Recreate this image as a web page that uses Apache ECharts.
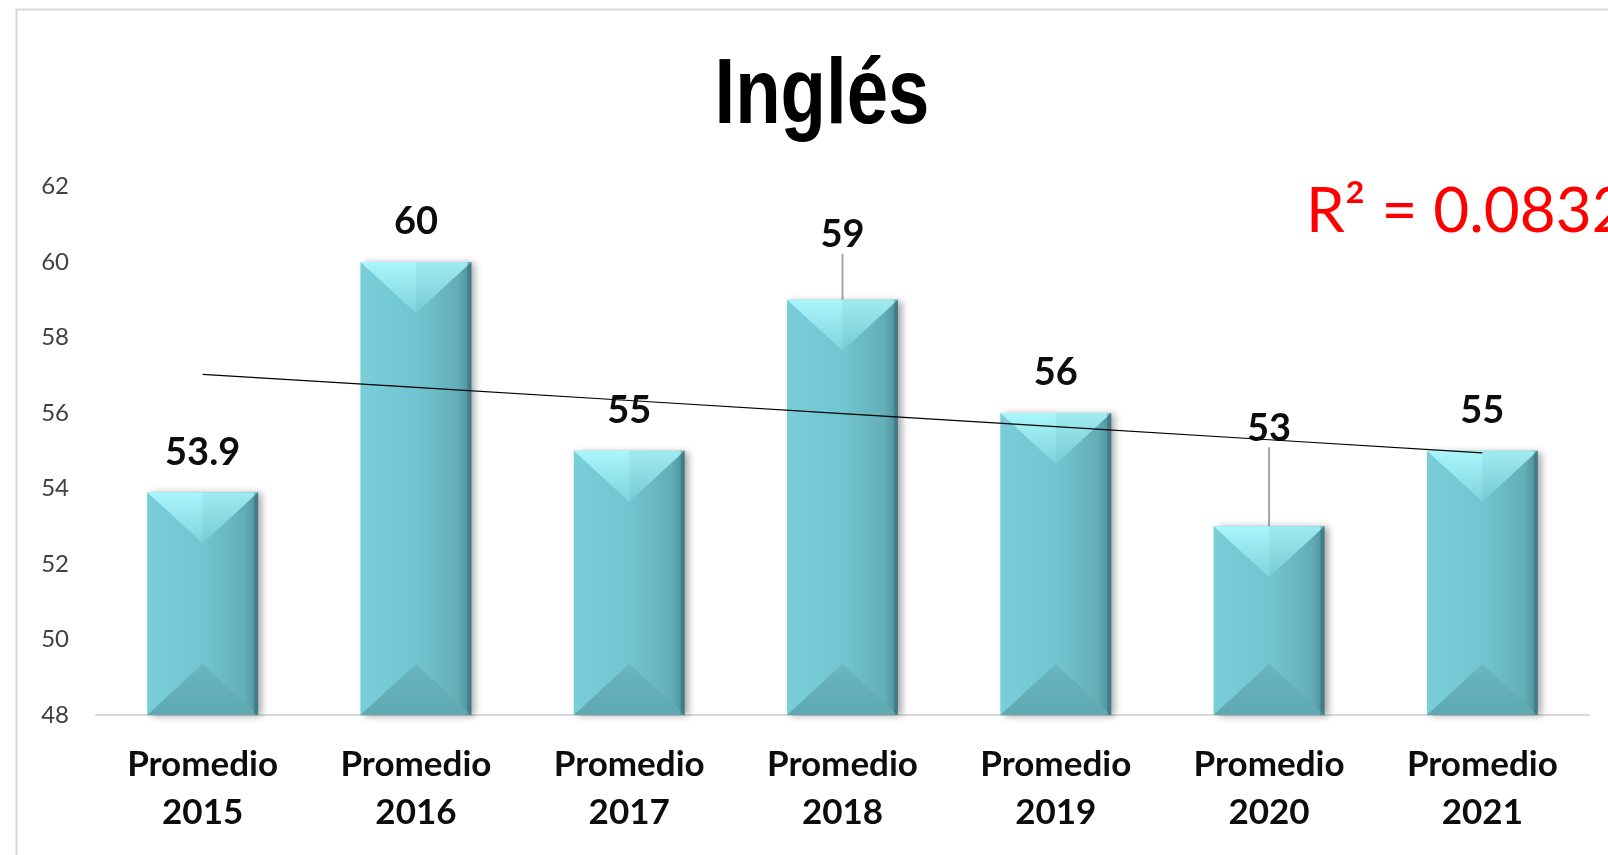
<!DOCTYPE html>
<html>
<head>
<meta charset="utf-8">
<script src="https://cdn.jsdelivr.net/npm/echarts@6/dist/echarts.min.js"></script>
<style>html,body{margin:0;padding:0;background:#fff;}#c{width:1608px;height:855px;}</style>
</head>
<body>
<div id="c"></div>
<script>
// ---- data ----
const categories = ['Promedio\n2015','Promedio\n2016','Promedio\n2017','Promedio\n2018','Promedio\n2019','Promedio\n2020','Promedio\n2021'];
const values = [53.9, 60, 55, 59, 56, 53, 55];
const yTicks = { min: 48, max: 62, interval: 2 };
const titleText = 'Inglés';

// ---- linear trend (least squares) computed from the values ----
const n = values.length;
const xs = values.map((_, i) => i + 1);
const mx = xs.reduce((a, b) => a + b, 0) / n;
const my = values.reduce((a, b) => a + b, 0) / n;
let sxy = 0, sxx = 0, syy = 0;
for (let i = 0; i < n; i++) { sxy += (xs[i] - mx) * (values[i] - my); sxx += (xs[i] - mx) ** 2; syy += (values[i] - my) ** 2; }
const slope = sxy / sxx, intercept = my - slope * mx;
const trend = xs.map(x => +(intercept + slope * x).toFixed(4));
const r2 = (slope * slope * sxx) / syy;

const chart = echarts.init(document.getElementById('c'), null, { renderer: 'canvas' });
const BW = 0.52;
const labelLift = { 3: -25, 5: -58 };

const option = {
  animation: false,
  backgroundColor: '#fff',
  grid: { left: 96, right: 19, top: 186.6, bottom: 140 },
  graphic: [
    { type: 'rect', left: 14, top: 7, shape: { width: 1700, height: 1000 }, style: { fill: 'none', stroke: '#D9D9D9', lineWidth: 2 }, z: -1 },
    { type: 'text', x: 822, y: 97, scaleX: 0.8, originX: 0, style: { text: titleText, font: 'bold 93px "Liberation Sans", Arial, sans-serif', fill: '#000', textAlign: 'center', textVerticalAlign: 'middle' } },
    { type: 'text', x: 1306, y: 212, style: { text: 'R² = ' + r2.toFixed(4), font: '62px Lato, sans-serif', fill: '#FF0000', textAlign: 'left', textVerticalAlign: 'middle' } }
  ],
  xAxis: {
    type: 'category',
    data: categories,
    axisLine: { lineStyle: { color: '#D9D9D9', width: 2 } },
    axisTick: { show: false },
    axisLabel: { color: '#0d0d0d', fontFamily: 'Lato', fontWeight: 'bold', fontSize: 35, lineHeight: 48, margin: 26, interval: 0 }
  },
  yAxis: {
    type: 'value',
    min: yTicks.min, max: yTicks.max, interval: yTicks.interval,
    splitLine: { show: false },
    axisLine: { show: false },
    axisTick: { show: false },
    axisLabel: { color: '#404040', fontFamily: 'Lato', fontSize: 24, margin: 27 }
  },
  series: [
    {
      type: 'bar',
      data: values.map((v, i) => ({ value: v, labelLine: { show: !!labelLift[i] } })),
      barWidth: (BW * 100) + '%',
      itemStyle: {
        color: new echarts.graphic.LinearGradient(0, 0, 1, 0, [
          { offset: 0, color: '#79CED9' },
          { offset: 0.5, color: '#72C5D0' },
          { offset: 0.88, color: '#63AEB8' },
          { offset: 1, color: '#4C8C96' }
        ]),
        shadowColor: 'rgba(0,0,0,0.35)', shadowBlur: 7, shadowOffsetX: 4, shadowOffsetY: 1
      },
      label: { show: true, position: 'top', distance: 21, color: '#0d0d0d', fontFamily: 'Lato', fontWeight: 'bold', fontSize: 38 },
      labelLayout: function (p) { return labelLift[p.dataIndex] ? { dy: labelLift[p.dataIndex] } : {}; },
      labelLine: { show: true, lineStyle: { color: '#A6A6A6', width: 2 } },
      z: 2
    },
    {
      type: 'custom',
      data: values.map((v, i) => [i, v]),
      z: 3,
      silent: true,
      renderItem: function (params, api) {
        const i = api.value(0), v = api.value(1);
        const top = api.coord([i, v]);
        const base = api.coord([i, yTicks.min]);
        const w = api.size([1, 0])[0] * BW;
        const cx = top[0], x0 = cx - w / 2, x1 = cx + w / 2, yt = top[1], yb = base[1];
        const d = w * 0.46;
        return {
          type: 'group',
          children: [
            { type: 'polygon', shape: { points: [[x0, yt], [x1, yt], [cx, yt + d]] },
              style: { fill: new echarts.graphic.LinearGradient(0, 0, 0, 1, [{ offset: 0, color: '#AAF6FC' }, { offset: 1, color: '#7FD3DD' }]) } },
            { type: 'polygon', shape: { points: [[cx, yt], [x1, yt], [cx, yt + d]] },
              style: { fill: 'rgba(0,60,70,0.06)' } },
            { type: 'polygon', shape: { points: [[x0, yb], [x1, yb], [cx, yb - d]] },
              style: { fill: new echarts.graphic.LinearGradient(0, 0, 0, 1, [{ offset: 0, color: '#68B6C0' }, { offset: 1, color: '#5FA8B2' }]) } },
            { type: 'rect', shape: { x: x1 - 4, y: yt, width: 4, height: yb - yt }, style: { fill: 'rgba(40,90,100,0.35)' } }
          ]
        };
      }
    },
    {
      type: 'line',
      data: trend,
      symbol: 'none',
      lineStyle: { color: '#000', width: 1.2 },
      z: 4,
      silent: true
    }
  ]
};
chart.setOption(option);
</script>
</body>
</html>
